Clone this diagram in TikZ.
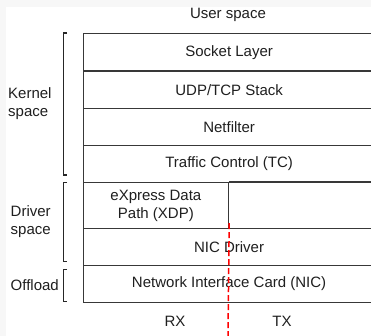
\documentclass[tikz,border=0pt]{standalone}
\usepackage{fontspec}
\setmainfont{Liberation Sans}
\begin{document}
\begin{tikzpicture}[x=1pt,y=-1pt,
  layer/.style={draw=black!78,line width=1.2pt,rectangle,inner sep=0pt,
    anchor=north west,minimum width=292pt,minimum height=37pt,
    font=\fontsize{15}{18}\selectfont,text=black!88},
  lbl/.style={font=\fontsize{15}{18}\selectfont,text=black!88,inner sep=0pt},
  brace/.style={draw=black!85,line width=1.2pt},
  split/.style={draw=red,line width=1.5pt,dash pattern=on 6pt off 3pt}]
\useasboundingbox (0,0) rectangle (371,336);
\fill[black!3] (0,0) rectangle (371,336);
\fill[white] (6,7) rectangle (371,336);

% protocol layers
\node[layer,minimum height=37.5pt] (sock) at (82.5,33) {Socket Layer};
\node[layer,minimum height=37.5pt] (udp) at (82.5,70.5) {UDP/TCP Stack};
\node[layer] (nf) at (82.5,108) {Netfilter};
\node[layer] (tc) at (82.5,145) {Traffic Control (TC)};
\node[layer,minimum width=145.5pt,minimum height=46pt,align=center] (xdp) at (82.5,182)
  {eXpress Data\\Path (XDP)};
\draw[draw=black!78,line width=1.2pt] (xdp.north east) -- (374,182);
\node[layer] (drv) at (82.5,228) {NIC Driver};
\node[layer] (nic) at (82.5,265) {Network Interface Card (NIC)};

% top and bottom captions
\node[lbl] (user) at (228,15) {User space};
\node[lbl] (rx) at (175,321) {RX};
\node[lbl] (tx) at (282,321) {TX};

% side groupings
\draw[brace] (67,33) -- (63.3,33) -- (63.3,175) -- (67,175);
\node[lbl,anchor=west,align=left] (kern) at (8,104) {Kernel\\space};
\draw[brace] (67,182.7) -- (63.3,182.7) -- (63.3,261.7) -- (67,261.7);
\node[lbl,anchor=west,align=left] (dspace) at (10.5,222) {Driver\\space};
\draw[brace] (67,269.3) -- (63.3,269.3) -- (63.3,301.7) -- (67,301.7);
\node[lbl,anchor=west] (off) at (10.5,285) {Offload};

% RX / TX split
\coordinate (splitend) at (228,336);
\draw[split] ([yshift=6pt]xdp.south east) -- (splitend);
\end{tikzpicture}
\end{document}
